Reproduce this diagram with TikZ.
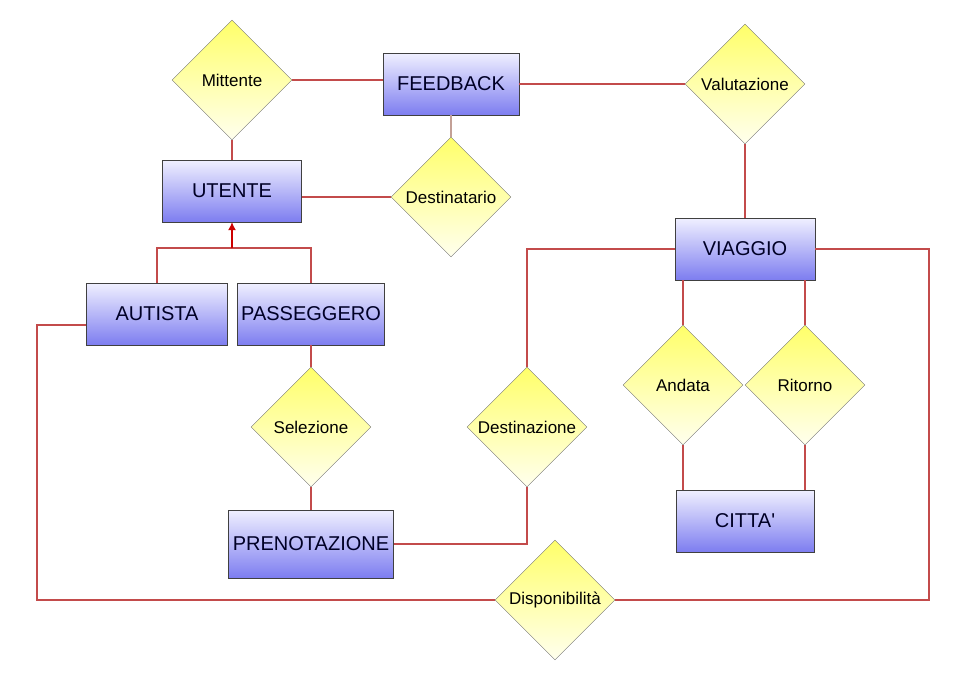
\documentclass[tikz,border=0pt]{standalone}
\usepackage{fontspec}
\setmainfont{Liberation Sans}
\newfontfamily\erfont{Liberation Sans}
\usepackage{tikz}
\usetikzlibrary{positioning, arrows, arrows.meta, shapes}

\definecolor{linkred}{RGB}{195,75,75}
\definecolor{linkgray}{RGB}{195,160,150}
\definecolor{entitytop}{RGB}{240,240,255}
\definecolor{entitybot}{RGB}{125,125,240}
\definecolor{reltop}{RGB}{255,255,105}
\definecolor{relbot}{RGB}{255,255,238}

\tikzset{
  entity/.style={draw=black!75, rectangle, top color=entitytop, bottom color=entitybot,
    minimum height=62pt, inner sep=2pt, font=\erfont\fontsize{20}{24}\selectfont, text=black!85!blue},
  rel/.style={draw=black!55, diamond, top color=reltop, bottom color=relbot,
    minimum size=120pt, inner sep=0pt,
    label={[font=\erfont\fontsize{17}{21}\selectfont, inner sep=0pt]center:#1}},
  link/.style={draw=linkred, line width=1.1pt},
  linklight/.style={draw=linkgray, line width=1.1pt},
}

\begin{document}
\begin{tikzpicture}[x=1pt, y=-1pt]
        \useasboundingbox (0,0) rectangle (960,678);
        % Nodes
        \node (feedback) [entity, minimum width=136pt] at (451,84) {FEEDBACK};
        \node (utente) [entity, minimum width=139pt] at (232,191) {UTENTE};
        \node (autista) [entity, minimum width=141pt] at (157,314) {AUTISTA};
        \node (passeggero) [entity, minimum width=147pt] at (311,314) {PASSEGGERO};
        \node (viaggio) [entity, minimum width=140pt] at (745,249) {VIAGGIO};
        \node (citta) [entity, minimum width=138pt, below of=viaggio, node distance=272pt] {CITTA'};
        \node (prenotazione) [entity, minimum width=165pt, minimum height=68pt] at (311,544) {PRENOTAZIONE};

        \node (mittente) [rel=Mittente] at (232,80) {};
        \node (destinatario) [rel=Destinatario] at (451,197) {};
        \node (valutazione) [rel=Valutazione] at (745,84) {};
        \node (andata) [rel=Andata] at (683,385) {};
        \node (ritorno) [rel=Ritorno, right of=andata, node distance=122pt] {};
        \node (selezione) [rel=Selezione] at (311,427) {};
        \node (destinazione) [rel=Destinazione, right of=selezione, node distance=216pt] {};
        \node (disponibilita) [rel=Disponibilità] at (555,600) {};

        \coordinate (isa) at (232,248);
        \coordinate (vright) at (929,249);
        \coordinate (aleft) at (37,325);

        % Links
        \draw[link] (mittente.east) -- (mittente.east -| feedback.west);
        \draw[link] (mittente.south) -- (utente.north);
        \draw[linklight] (feedback.south) -- (destinatario.north);
        \draw[link] (destinatario.west) -- (destinatario.west -| utente.east);
        \draw[link] (feedback.east) -- (valutazione.west);
        \draw[link] (valutazione.south) -- (viaggio.north);
        \draw[link] (viaggio.west) -| (destinazione.north);
        \draw[link] (destinazione.south) |- (prenotazione.east);
        \draw[link] (andata.north) -- (andata.north |- viaggio.south);
        \draw[link] (ritorno.north) -- (ritorno.north |- viaggio.south);
        \draw[link] (andata.south) -- (andata.south |- citta.north);
        \draw[link] (ritorno.south) -- (ritorno.south |- citta.north);
        \draw[link] (viaggio.east) -- (vright) |- (disponibilita.east);
        \draw[link] ([yshift=-11pt]autista.west) -- (aleft) |- (disponibilita.west);
        \draw[link] (passeggero.south) -- (selezione.north);
        \draw[link] (selezione.south) -- (prenotazione.north);

        % Generalisation
        \draw[link] (autista.north) |- (isa) -| (passeggero.north);
        \draw[link, -{Latex[length=8pt, width=8pt]}, color=red!80!black] (isa) -- (utente.south);
    \end{tikzpicture}
\end{document}
